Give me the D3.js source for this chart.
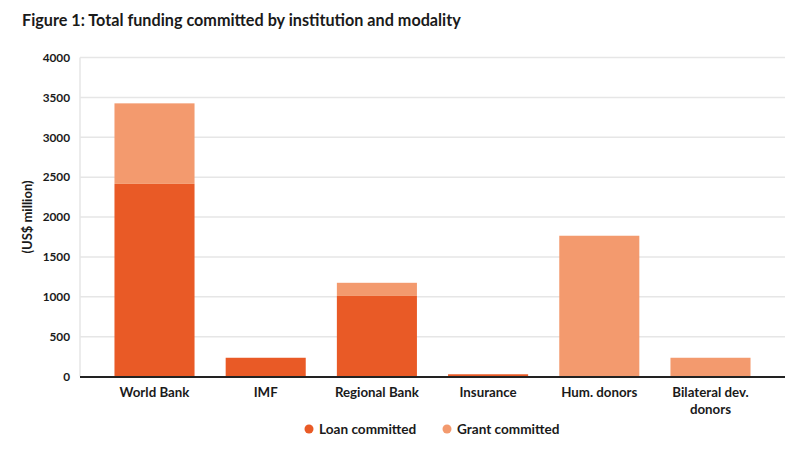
<!DOCTYPE html>
<html><head><meta charset="utf-8">
<script src="https://cdn.jsdelivr.net/npm/d3@7"></script>
<style>
body{margin:0;background:#fff;}
text{font-family:Lato,"Open Sans",sans-serif;fill:#1a1a1a;}
</style></head>
<body><svg id="c" width="810" height="451"></svg>
<script>
const categories = ["World Bank","IMF","Regional Bank","Insurance","Hum. donors","Bilateral dev. donors"];
const categoryLines = [["World Bank"],["IMF"],["Regional Bank"],["Insurance"],["Hum. donors"],["Bilateral dev.","donors"]];
const loanCommitted  = [2415, 235, 1010, 28, 0, 0];
const grantCommitted = [1010, 0, 165, 0, 1765, 235];
const seriesNames = ["Loan committed","Grant committed"];
const seriesColors = ["#E95A26","#F39A6E"];
const yTicks = [0,500,1000,1500,2000,2500,3000,3500,4000];

const svg = d3.select("#c");
const m = {left:80, right:25, top:57.5, bottom:74.5};
const W = 810, H = 451;

svg.append("text").attr("x",22).attr("y",26).attr("font-size",16.2).attr("font-weight",700)
  .text("Figure 1: Total funding committed by institution and modality");

const x = d3.scaleBand().domain(categories).range([m.left, W-m.right]).paddingInner(0.28).paddingOuter(0.31);
const y = d3.scaleLinear().domain([0,4000]).range([H-m.bottom, m.top]);

// gridlines
svg.append("g").selectAll("line").data(yTicks.filter(d=>d>0)).join("line")
  .attr("x1",m.left).attr("x2",W-m.right).attr("y1",d=>y(d)).attr("y2",d=>y(d))
  .attr("stroke","#e6e6e6").attr("stroke-width",1.5);
svg.append("line").attr("x1",m.left).attr("x2",m.left).attr("y1",m.top).attr("y2",y(0))
  .attr("stroke","#e6e6e6").attr("stroke-width",1.5);

const yAxis = svg.append("g").attr("transform",`translate(${m.left},0)`)
  .call(d3.axisLeft(y).tickValues(yTicks).tickFormat(d3.format("d")).tickSize(0).tickPadding(10));
yAxis.select(".domain").remove();
yAxis.selectAll("text").attr("font-size",11.8).attr("font-weight",700).attr("fill","#1a1a1a")
  .attr("font-family","Lato, sans-serif");

svg.append("text").attr("transform",`translate(32,${(y(0)+y(4000))/2}) rotate(-90)`)
  .attr("text-anchor","middle").attr("font-size",13).attr("font-weight",700).text("(US$ million)");

// stacked bars
const rows = categories.map((c,i)=>({cat:c, loan:loanCommitted[i], grant:grantCommitted[i]}));
const stack = d3.stack().keys(["loan","grant"])(rows);
svg.append("g").selectAll("g").data(stack).join("g").attr("fill",(d,i)=>seriesColors[i])
  .selectAll("rect").data(d=>d).join("rect")
  .attr("x",d=>x(d.data.cat)).attr("width",x.bandwidth())
  .attr("y",d=>y(d[1])).attr("height",d=>y(d[0])-y(d[1]));

// baseline
svg.append("line").attr("x1",m.left).attr("x2",W-m.right).attr("y1",y(0)+0.5).attr("y2",y(0)+0.5)
  .attr("stroke","#222").attr("stroke-width",2);

// x labels
const xl = svg.append("g").selectAll("text").data(categories).join("text")
  .attr("x",d=>x(d)+x.bandwidth()/2).attr("y",y(0)+20).attr("text-anchor","middle")
  .attr("font-size",13.3).attr("font-weight",700);
xl.each(function(d,i){
  d3.select(this).selectAll("tspan").data(categoryLines[i]).join("tspan")
    .attr("x",x(d)+x.bandwidth()/2).attr("dy",(t,j)=>j===0?0:17).text(t=>t);
});

// legend
const legX = [309, 447];
const lg = svg.append("g").selectAll("g").data(seriesNames).join("g")
  .attr("transform",(d,i)=>`translate(${legX[i]},429)`);
lg.append("circle").attr("r",4.5).attr("fill",(d,i)=>seriesColors[i]);
lg.append("text").attr("x",10).attr("y",4.8).attr("font-size",13.6).attr("font-weight",700).text(d=>d);
</script></body></html>
